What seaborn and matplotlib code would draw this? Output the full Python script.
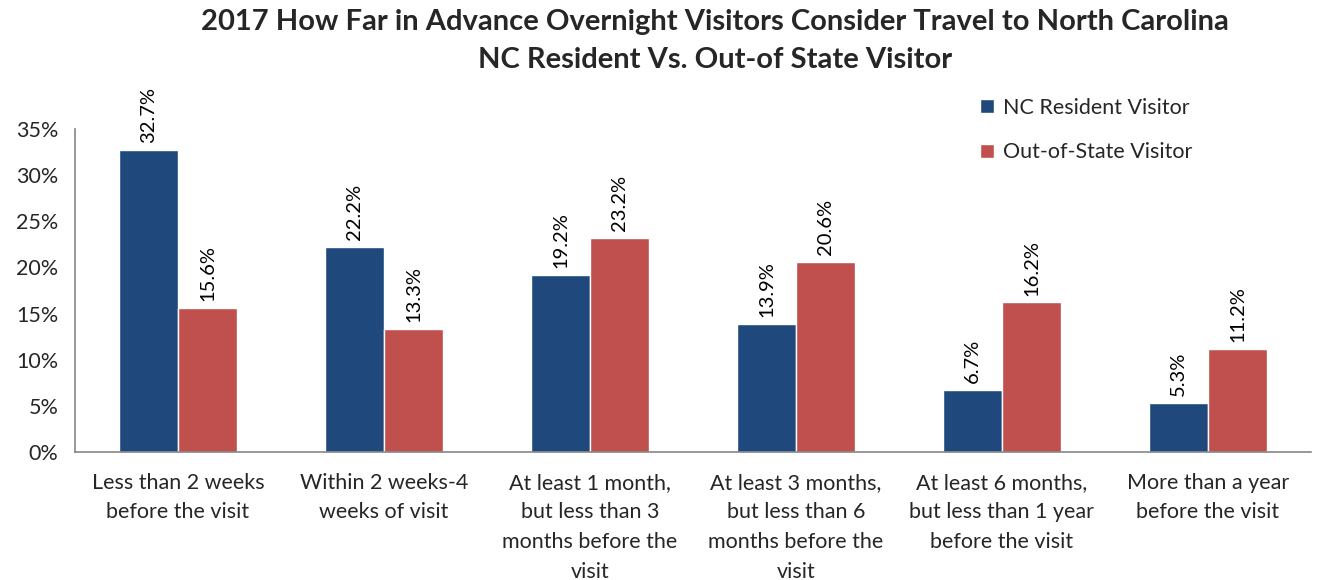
import matplotlib
matplotlib.use("Agg")
import matplotlib.pyplot as plt
import seaborn as sns
import pandas as pd
import numpy as np

categories = [
    "Less than 2 weeks\nbefore the visit",
    "Within 2 weeks-4\nweeks of visit",
    "At least 1 month,\nbut less than 3\nmonths before the\nvisit",
    "At least 3 months,\nbut less than 6\nmonths before the\nvisit",
    "At least 6 months,\nbut less than 1 year\nbefore the visit",
    "More than a year\nbefore the visit",
]
series_names = ["NC Resident Visitor", "Out-of-State Visitor"]
nc_resident = [32.7, 22.2, 19.2, 13.9, 6.7, 5.3]
out_of_state = [15.6, 13.3, 23.2, 20.6, 16.2, 11.2]
colors = ["#1F497D", "#C0504D"]

df = pd.DataFrame({
    "category": categories * 2,
    "series": [series_names[0]] * 6 + [series_names[1]] * 6,
    "value": nc_resident + out_of_state,
})

sns.set_theme(style="white")
plt.rcParams["font.family"] = ["Lato", "DejaVu Sans"]

fig = plt.figure(figsize=(13.21, 5.80), dpi=100)
ax = fig.add_axes([0.0568, 0.2207, 0.9356, 0.5569])

sns.barplot(data=df, x="category", y="value", hue="series", order=categories,
            hue_order=series_names, palette=colors, width=0.573, saturation=1,
            ax=ax, errorbar=None)

for cont in ax.containers:
    ax.bar_label(cont, labels=[f"{v:.1f}%" for v in cont.datavalues],
                 rotation=90, padding=5, fontsize=14.5, color="#000000")

ax.set_ylim(0, 35)
ax.set_xlim(-0.5, 5.5)
ax.set_yticks(np.arange(0, 36, 5))
ax.set_yticklabels([f"{v}%" for v in range(0, 36, 5)], fontsize=15.5)
ax.set_xticks(range(6))
ax.set_xticklabels(categories, fontsize=15.5, linespacing=1.6)
ax.set_xticks(np.arange(-0.5, 6, 1), minor=True)
ax.tick_params(axis="x", which="major", length=0, pad=15)
ax.tick_params(axis="x", which="minor", length=7, width=1.2, color="#868686", direction="out")
ax.tick_params(axis="y", length=6, width=1.2, color="#868686", direction="out", pad=6)
ax.set_xlabel("")
ax.set_ylabel("")
for s in ["top", "right"]:
    ax.spines[s].set_visible(False)
for s in ["left", "bottom"]:
    ax.spines[s].set_color("#868686")
    ax.spines[s].set_linewidth(1.2)

handles, labels = ax.get_legend_handles_labels()
ax.legend(handles, labels, loc="upper left", bbox_to_anchor=(0.727, 0.865),
          bbox_transform=fig.transFigure, frameon=False, fontsize=15.5,
          handlelength=0.65, handleheight=0.65, handletextpad=0.45, labelspacing=1.15)

fig.text(0.541, 0.985, "2017 How Far in Advance Overnight Visitors Consider Travel to North Carolina\nNC Resident Vs. Out-of State Visitor",
         ha="center", va="top", fontsize=21, fontweight="bold", linespacing=1.6)

fig.savefig("out.png", dpi=100)
